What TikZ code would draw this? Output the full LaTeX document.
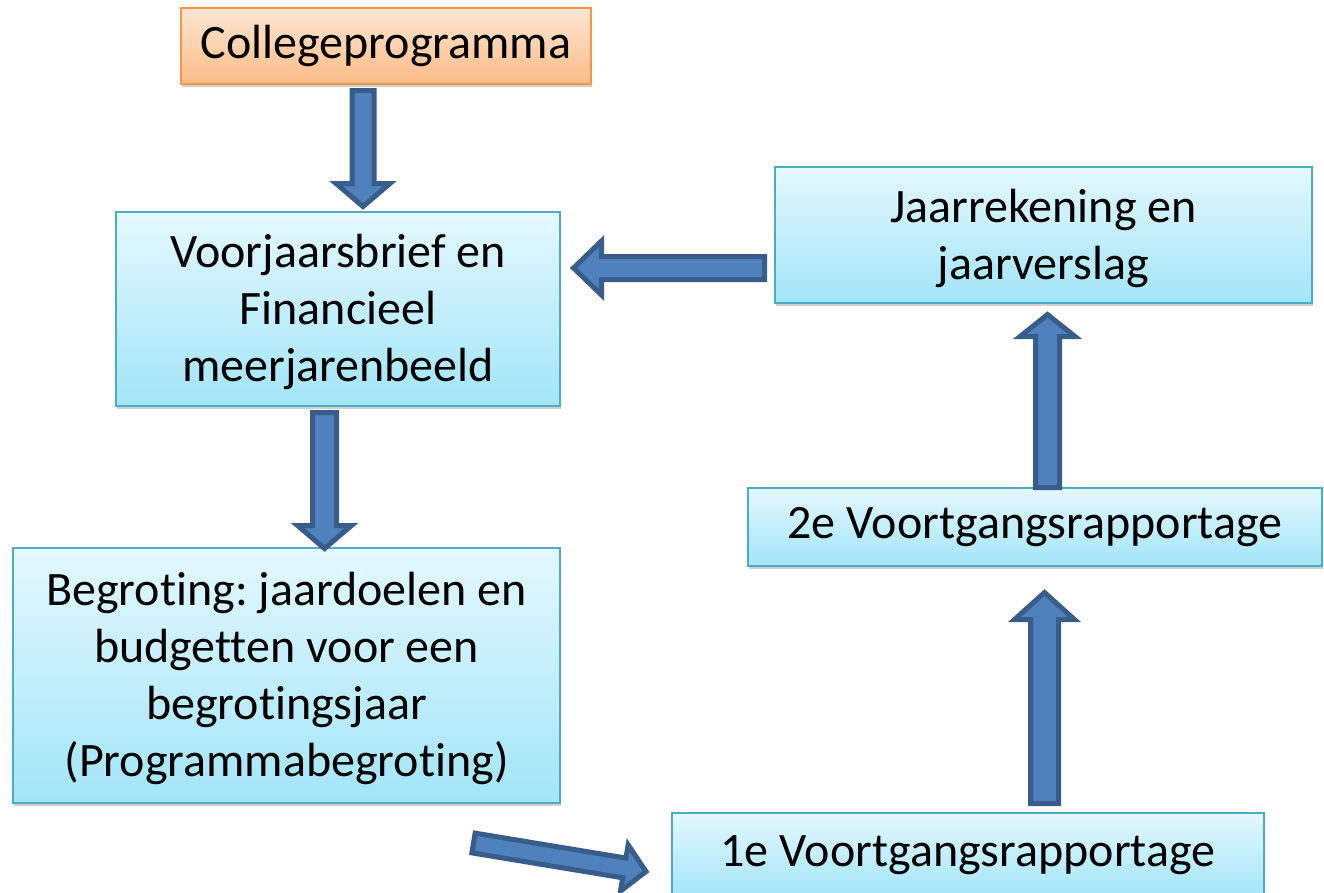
\documentclass[tikz,border=0pt]{standalone}
\usepackage{fontspec}
\setmainfont{Carlito}[Ligatures={NoCommon}]
\frenchspacing
\usetikzlibrary{calc,shadows}
\definecolor{boxline}{HTML}{4BACC6}
\definecolor{boxtop}{HTML}{E4F8FE}
\definecolor{boxbot}{HTML}{A2E5F8}
\definecolor{orline}{HTML}{F79646}
\definecolor{ortop}{HTML}{FDE6D3}
\definecolor{orbot}{HTML}{FBBC86}
\definecolor{arrfill}{HTML}{4F81BD}
\definecolor{arrline}{HTML}{385D8A}
\tikzset{
  boxnode/.style={draw=boxline, line width=1.8pt, top color=boxtop, bottom color=boxbot,
    align=center, inner sep=0pt, font=\fontsize{48}{57}\selectfont,
    drop shadow={shadow xshift=1pt, shadow yshift=-3pt, opacity=0.3, fill=black!60}},
  ornode/.style={boxnode, draw=orline, top color=ortop, bottom color=orbot},
  barrow/.style={draw=arrline, fill=arrfill, line width=5pt, line join=miter}
}
\newcommand\blockarrow[6]{%
  \coordinate (#1h) at ($(#3)!#6!(#2)$);
  \draw[barrow] ($(#2)!#4!90:(#3)$) -- ($(#1h)!#4!90:(#3)$) -- ($(#1h)!#5!90:(#3)$) -- (#3)
    -- ($(#1h)!#5!-90:(#3)$) -- ($(#1h)!#4!-90:(#3)$) -- ($(#2)!#4!-90:(#3)$) -- cycle;
}
\begin{document}
\begin{tikzpicture}[x=1pt,y=1pt]
\path[use as bounding box] (0,0) rectangle (1324,-892);
\clip (0,0) rectangle (1324,-892);
\fill[white] (0,0) rectangle (1324,-892);

\node[ornode, minimum width=410pt, minimum height=76pt] (cp) at (386,-46) {Collegeprogramma};
\node[boxnode, minimum width=444pt, minimum height=194pt] (vj) at (338,-309)
  {\rule{0pt}{40pt}Voorjaarsbrief en\\Financieel\\meerjarenbeeld};
\node[boxnode, minimum width=547pt, minimum height=255pt] (bg) at (286.5,-675.5)
  {\rule{0pt}{40pt}Begroting: jaardoelen en\\budgetten voor een\\begrotingsjaar\\(Programmabegroting)};
\node[boxnode, minimum width=537pt, minimum height=136pt] (jr) at (1043.5,-235)
  {\rule{0pt}{40pt}Jaarrekening en\\jaarverslag};
\node[boxnode, minimum width=574pt, minimum height=78pt] (v2) at (1035,-527)
  {2e Voortgangsrapportage};
\node[boxnode, minimum width=592pt, minimum height=84pt] (v1) at (968,-855)
  {1e Voortgangsrapportage};

% arrows
\coordinate (a1s) at (363,-90.5);   \coordinate (a1t) at (363,-206.5);
\coordinate (a2s) at (324.5,-412.5); \coordinate (a2t) at (324.5,-548.5);
\coordinate (a3s) at (764.5,-268);  \coordinate (a3t) at (573.5,-268);
\coordinate (a4s) at (1047.5,-487.5); \coordinate (a4t) at (1047.5,-314.5);
\coordinate (a5s) at (1044.5,-803.5); \coordinate (a5t) at (1044.5,-592.5);
\coordinate (a6s) at (473.5,-843);  \coordinate (a6t) at (646,-871.5);

\blockarrow{a1}{a1s}{a1t}{11pt}{27pt}{23pt}
\blockarrow{a2}{a2s}{a2t}{12pt}{27pt}{23pt}
\blockarrow{a3}{a3s}{a3t}{11.5pt}{27pt}{28pt}
\blockarrow{a4}{a4s}{a4t}{12pt}{27.5pt}{22pt}
\blockarrow{a5}{a5s}{a5t}{14pt}{30pt}{27pt}
\blockarrow{a6}{a6s}{a6t}{10pt}{23.5pt}{22pt}
\end{tikzpicture}
\end{document}
